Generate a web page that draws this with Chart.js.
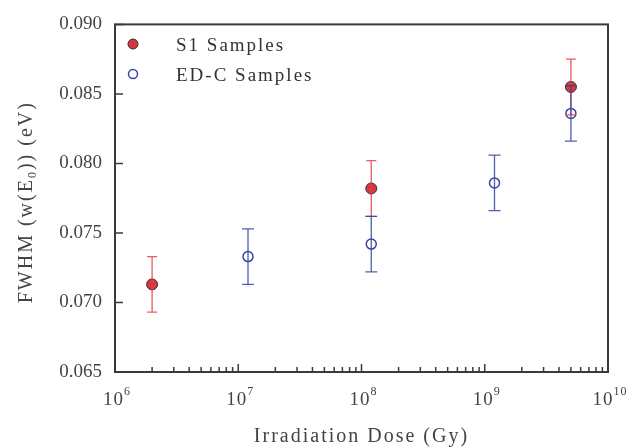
<!DOCTYPE html>
<html>
<head>
<meta charset="utf-8">
<script src="https://cdn.jsdelivr.net/npm/chart.js@4/dist/chart.umd.min.js"></script>
<style>
  html,body{margin:0;padding:0;background:#fff}
  #wrap{width:638px;height:448px;position:relative}
</style>
</head>
<body>
<div id="wrap"><canvas id="c" width="638" height="448"></canvas></div>
<script>
// data
const s1Dose = [2e6, 1.2e8, 5e9];
const s1Fwhm = [0.0713, 0.0782, 0.0855];
const s1Err  = [0.002, 0.002, 0.002];

const edDose = [1.2e7, 1.2e8, 1.2e9, 5e9];
const edFwhm = [0.0733, 0.0742, 0.0786, 0.0836];
const edErr  = [0.002, 0.002, 0.002, 0.002];

const yTicks = [0.065, 0.070, 0.075, 0.080, 0.085, 0.090];
const xDecades = [6, 7, 8, 9, 10];

const RED = '#d7373f', RED_BAR = 'rgba(232,60,72,0.85)';
const BLUE = '#3a46a0', BLUE_BAR = 'rgba(52,66,160,0.85)';
const INK = '#3a3a3a';
const SERIF = '"Liberation Serif", "DejaVu Serif", serif';

const pts = (xs, ys) => xs.map((x,i)=>({x, y: ys[i]}));

// error bars, ticks, frame, legend and axis text
const decor = {
  id: 'decor',
  afterDatasetsDraw(chart){
    const {ctx, scales:{x, y}} = chart;
    const bars = [[s1Dose, s1Fwhm, s1Err, RED_BAR, 5], [edDose, edFwhm, edErr, BLUE_BAR, 6]];
    ctx.save();
    bars.forEach(([xs, ys, es, col, cap])=>{
      ctx.strokeStyle = col; ctx.lineWidth = 1.3;
      xs.forEach((v,i)=>{
        const px = x.getPixelForValue(v);
        const top = y.getPixelForValue(ys[i]+es[i]), bot = y.getPixelForValue(ys[i]-es[i]);
        ctx.beginPath();
        ctx.moveTo(px, top); ctx.lineTo(px, bot);
        ctx.moveTo(px-cap, top); ctx.lineTo(px+cap, top);
        ctx.moveTo(px-cap, bot); ctx.lineTo(px+cap, bot);
        ctx.stroke();
      });
    });
    ctx.restore();
  },
  afterDraw(chart){
    const {ctx, chartArea:a, scales:{x, y}} = chart;
    const spacing = (px)=>{ if('letterSpacing' in ctx) ctx.letterSpacing = px; };
    ctx.save();
    // frame
    ctx.strokeStyle = INK; ctx.lineWidth = 2;
    ctx.strokeRect(a.left, a.top, a.right-a.left, a.bottom-a.top);
    // inward ticks
    ctx.lineWidth = 1.5;
    ctx.beginPath();
    yTicks.forEach(v=>{ const py = y.getPixelForValue(v); ctx.moveTo(a.left, py); ctx.lineTo(a.left+8, py); });
    xDecades.forEach((d, k)=>{
      const px = x.getPixelForValue(Math.pow(10, d));
      ctx.moveTo(px, a.bottom); ctx.lineTo(px, a.bottom-8);
      if(k < xDecades.length-1){
        for(let m=2; m<=9; m++){
          const mx = x.getPixelForValue(m*Math.pow(10, d));
          ctx.moveTo(mx, a.bottom); ctx.lineTo(mx, a.bottom-5);
        }
      }
    });
    ctx.stroke();

    // x tick labels 10^n
    ctx.fillStyle = '#444';
    ctx.textBaseline = 'alphabetic';
    spacing('1px');
    xDecades.forEach(d=>{
      const px = x.getPixelForValue(Math.pow(10, d));
      ctx.font = '19px ' + SERIF;
      const bw = ctx.measureText('10').width;
      ctx.font = '12px ' + SERIF;
      const sw = ctx.measureText(String(d)).width;
      const start = px - (bw+sw)/2 + 2;
      ctx.font = '19px ' + SERIF;
      ctx.textAlign = 'left';
      ctx.fillText('10', start, 405);
      ctx.font = '12px ' + SERIF;
      ctx.fillText(String(d), start+bw, 395);
    });

    // x title
    spacing('2px');
    ctx.font = '20px ' + SERIF;
    ctx.textAlign = 'center';
    ctx.fillText('Irradiation Dose (Gy)', (a.left+a.right)/2, 442);

    // y title with subscript
    ctx.translate(32, (a.top+a.bottom)/2 + 4);
    ctx.rotate(-Math.PI/2);
    const parts = [['FWHM (w(E', 20, 0], ['0', 12, 4], [')) (eV)', 20, 0]];
    let total = 0;
    parts.forEach(([t, s])=>{ ctx.font = s+'px '+SERIF; total += ctx.measureText(t).width; });
    let cx = -total/2;
    ctx.textAlign = 'left';
    parts.forEach(([t, s, dy])=>{ ctx.font = s+'px '+SERIF; ctx.fillText(t, cx, dy); cx += ctx.measureText(t).width; });
    ctx.restore();

    // legend
    ctx.save();
    ctx.beginPath(); ctx.arc(133, 44, 5, 0, Math.PI*2);
    ctx.fillStyle = RED; ctx.fill(); ctx.strokeStyle = '#333'; ctx.lineWidth = 1; ctx.stroke();
    ctx.beginPath(); ctx.arc(133, 74, 4.5, 0, Math.PI*2);
    ctx.strokeStyle = BLUE; ctx.lineWidth = 1.5; ctx.stroke();
    spacing('2px');
    ctx.fillStyle = '#333'; ctx.font = '19px ' + SERIF; ctx.textAlign = 'left'; ctx.textBaseline = 'middle';
    ctx.fillText('S1 Samples', 176, 46);
    ctx.fillText('ED-C Samples', 176, 76);
    ctx.restore();
  }
};

new Chart(document.getElementById('c'), {
  type: 'scatter',
  data: {
    datasets: [
      { label: 'S1 Samples', data: pts(s1Dose, s1Fwhm), pointRadius: 5.5, pointHoverRadius: 5.5,
        backgroundColor: RED, borderColor: '#333', borderWidth: 1 },
      { label: 'ED-C Samples', data: pts(edDose, edFwhm), pointRadius: 5, pointHoverRadius: 5,
        backgroundColor: 'rgba(0,0,0,0)', borderColor: BLUE, borderWidth: 1.5 }
    ]
  },
  plugins: [decor],
  options: {
    responsive: false, animation: false,
    layout: { padding: { top: 17, right: 30, left: 0, bottom: 0 } },
    plugins: { legend: { display: false }, tooltip: { enabled: false } },
    scales: {
      x: {
        type: 'logarithmic', min: 1e6, max: 1e10,
        grid: { display: false }, border: { display: false },
        ticks: { display: false },
        afterFit: (s)=>{ s.height = 76; }
      },
      y: {
        min: 0.065, max: 0.090,
        afterBuildTicks: (s)=>{ s.ticks = yTicks.map(v=>({value: v})); },
        grid: { display: false, drawTicks: false }, border: { display: false },
        ticks: { color: '#444', padding: 13, font: { family: SERIF, size: 19 },
          callback: (v)=> v.toFixed(3) },
        afterFit: (s)=>{ s.width = 115; }
      }
    }
  }
});
</script>
</body>
</html>
